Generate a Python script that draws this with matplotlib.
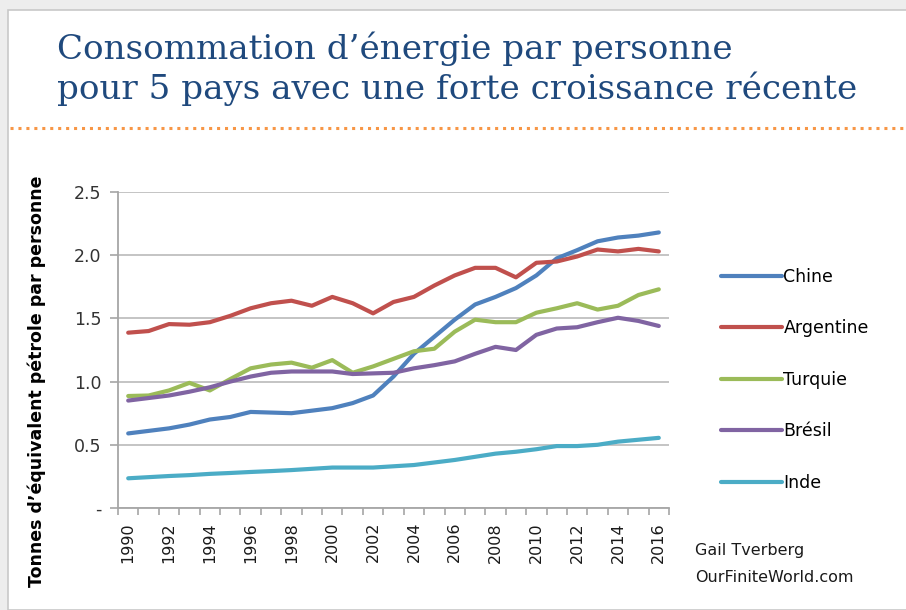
"""
Consommation d'énergie par personne — 5 pays à forte croissance récente.
Recreated from an Excel-style slide chart.
"""

import matplotlib

matplotlib.use("Agg")
import matplotlib.pyplot as plt
from matplotlib.patches import Rectangle
from matplotlib.lines import Line2D

YEARS = list(range(1990, 2017))

CHINE = [0.59, 0.61, 0.63, 0.66, 0.70, 0.72, 0.76, 0.755, 0.75, 0.77, 0.79, 0.83,
         0.89, 1.04, 1.22, 1.355, 1.49, 1.61, 1.67, 1.74, 1.84, 1.975, 2.04, 2.11,
         2.14, 2.155, 2.18]
ARGENTINE = [1.387, 1.40, 1.455, 1.45, 1.47, 1.52, 1.58, 1.62, 1.64, 1.60, 1.67, 1.62,
             1.54, 1.63, 1.67, 1.76, 1.84, 1.90, 1.90, 1.825, 1.94, 1.95, 1.99, 2.045,
             2.03, 2.05, 2.03]
TURQUIE = [0.886, 0.89, 0.93, 0.99, 0.93, 1.02, 1.105, 1.135, 1.15, 1.11, 1.17, 1.07,
           1.12, 1.18, 1.24, 1.26, 1.395, 1.49, 1.47, 1.47, 1.545, 1.58, 1.62, 1.57,
           1.60, 1.685, 1.73]
BRESIL = [0.85, 0.87, 0.89, 0.92, 0.955, 1.00, 1.04, 1.07, 1.08, 1.08, 1.08, 1.06,
          1.065, 1.07, 1.105, 1.13, 1.16, 1.22, 1.275, 1.25, 1.37, 1.42, 1.43, 1.47,
          1.505, 1.48, 1.44]
INDE = [0.235, 0.244, 0.253, 0.26, 0.27, 0.277, 0.285, 0.292, 0.30, 0.31, 0.32, 0.32,
        0.32, 0.33, 0.34, 0.36, 0.38, 0.405, 0.43, 0.445, 0.465, 0.49, 0.49, 0.50,
        0.525, 0.54, 0.555]

SERIES = [
    ("Chine", CHINE, "#4F81BD"),
    ("Argentine", ARGENTINE, "#C0504D"),
    ("Turquie", TURQUIE, "#9BBB59"),
    ("Brésil", BRESIL, "#8064A2"),
    ("Inde", INDE, "#4BACC6"),
]

Y_TICKS = [0, 0.5, 1.0, 1.5, 2.0, 2.5]
Y_TICK_LABELS = ["-", "0.5", "1.0", "1.5", "2.0", "2.5"]

TITLE = "Consommation d\u2019énergie par personne\npour 5 pays avec une forte croissance récente"
YLABEL = "Tonnes d\u2019équivalent pétrole par personne"

W, H = 906, 610
fig = plt.figure(figsize=(W / 100, H / 100), dpi=100)
fig.patch.set_facecolor("#EDEDED")

# slide frame
fig.patches.append(Rectangle((8 / W, 0), 1, 1 - 10 / H, transform=fig.transFigure,
                             facecolor="white", edgecolor="#C8C8C8", lw=1.2, zorder=-5))

fig.text(57 / W, 1 - 31 / H, TITLE, ha="left", va="top", fontsize=24.6,
         family="DejaVu Serif", color="#1F497D", linespacing=1.22)
fig.add_artist(Line2D([10 / W, 1], [1 - 128 / H, 1 - 128 / H], transform=fig.transFigure,
                      color="#F79646", lw=2.2, ls=(0, (1, 1.6))))

ax = fig.add_axes([118 / W, 1 - 508 / H, (669 - 118) / W, (508 - 192) / H])
ax.set_facecolor("white")
for name, vals, color in SERIES:
    ax.plot(YEARS, vals, color=color, lw=3.0, label=name, solid_capstyle="round")

ax.set_xlim(YEARS[0] - 0.5, YEARS[-1] + 0.5)
ax.set_ylim(0, 2.5)
ax.set_yticks(Y_TICKS)
ax.set_yticklabels(Y_TICK_LABELS)
ax.yaxis.grid(True, color="#BFBFBF", lw=1.3)
ax.set_axisbelow(True)

ax.set_xticks(YEARS[::2])
ax.set_xticklabels([str(y) for y in YEARS[::2]], rotation=90)
ax.set_xticks([y - 0.5 for y in YEARS] + [YEARS[-1] + 0.5], minor=True)
ax.tick_params(axis="x", which="major", length=0, pad=10, labelsize=11.5, labelcolor="#1A1A1A")
ax.tick_params(axis="x", which="minor", length=5, width=1.2, color="#A6A6A6", direction="out")
ax.tick_params(axis="y", length=6, width=1.2, color="#A6A6A6", pad=6, labelsize=12.5,
               labelcolor="#333333")

for side in ("top", "right"):
    ax.spines[side].set_visible(False)
for side in ("left", "bottom"):
    ax.spines[side].set_color("#A6A6A6")
    ax.spines[side].set_linewidth(1.3)

ax.set_ylabel(YLABEL, fontsize=12.5, fontweight="bold",
              family=["Liberation Sans Narrow", "DejaVu Sans"], labelpad=18)
ax.yaxis.set_label_coords(-72 / (669 - 118), 0.40)

fig.legend(loc="upper left", bbox_to_anchor=(714 / W, 1 - 261 / H), frameon=False,
           fontsize=12.5, handlelength=3.5, handletextpad=0.1, labelspacing=1.93,
           borderaxespad=0)

fig.text(695 / W, 1 - 564 / H, "Gail Tverberg\nOurFiniteWorld.com", ha="left", va="center",
         fontsize=11.5, color="#1A1A1A", linespacing=2.0)

fig.savefig("out.png", dpi=100)
